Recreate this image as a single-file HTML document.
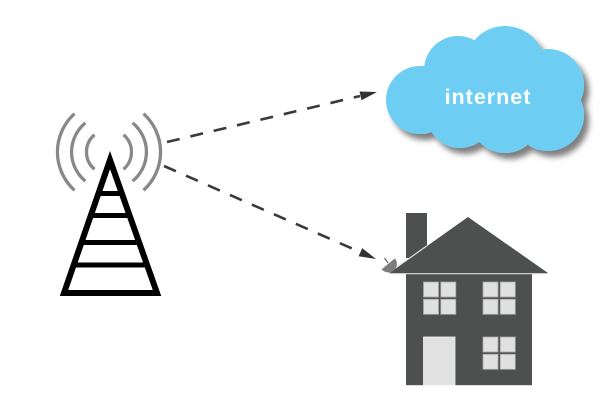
<!DOCTYPE html>
<html>
<head>
<meta charset="utf-8">
<style>
  html,body{margin:0;padding:0;background:#fff;}
  svg{display:block;}
</style>
</head>
<body>
<svg width="600" height="400" viewBox="0 0 600 400" xmlns="http://www.w3.org/2000/svg">
  <defs>
    <filter id="sh" x="-20%" y="-20%" width="150%" height="160%">
      <feDropShadow dx="5" dy="6" stdDeviation="3" flood-color="#000" flood-opacity="0.5"/>
    </filter>
  </defs>
  <rect width="600" height="400" fill="#fff"/>

  <!-- radio waves -->
  <g fill="none" stroke="#888" stroke-width="3.3">
    <path d="M74.5,113.7 A51.5 51.5 0 0 0 74.5,190.3"/>
    <path d="M143.5,113.7 A51.5 51.5 0 0 1 143.5,190.3"/>
    <path d="M85.4,122.9 A37.5 37.5 0 0 0 85.4,181.1"/>
    <path d="M132.6,122.9 A37.5 37.5 0 0 1 132.6,181.1"/>
    <path d="M94.5,134.8 A22.5 22.5 0 0 0 94.5,169.2"/>
    <path d="M123.5,134.8 A22.5 22.5 0 0 1 123.5,169.2"/>
  </g>

  <!-- tower -->
  <polygon points="110,160 64,293 157,293" fill="none" stroke="#000" stroke-width="6" stroke-linejoin="miter" stroke-miterlimit="10"/>
  <g stroke="#000" stroke-width="5">
    <line x1="98" y1="193.5" x2="122" y2="193.5"/>
    <line x1="90.5" y1="215.5" x2="130" y2="215.5"/>
    <line x1="81.5" y1="242.5" x2="139" y2="242.5"/>
    <line x1="73.5" y1="265" x2="147" y2="265"/>
  </g>

  <!-- dashed arrows -->
  <g stroke="#3a3a3a" stroke-width="2.6" fill="none" stroke-dasharray="13 11">
    <line x1="167" y1="142" x2="360" y2="96"/>
    <line x1="164" y1="166" x2="360" y2="252"/>
  </g>
  <polygon points="377,92 361.5,100.3 359.5,91.5" fill="#333"/>
  <polygon points="376,259 358.6,256.3 362.2,248.1" fill="#333"/>

  <!-- cloud -->
  <g filter="url(#sh)" fill="#6dcdf2">
    <circle cx="420" cy="100" r="34"/>
    <circle cx="458" cy="70" r="34"/>
    <circle cx="505" cy="66" r="40"/>
    <circle cx="548" cy="85" r="36"/>
    <circle cx="548" cy="115" r="36"/>
    <circle cx="505" cy="118" r="35"/>
    <circle cx="460" cy="115" r="33"/>
    <polygon points="420,100 458,70 505,66 548,85 548,115 505,118 460,115"/>
  </g>
  <text x="488" y="104" text-anchor="middle" font-family="Liberation Sans, sans-serif" font-weight="bold" font-size="21.5" letter-spacing="1" fill="#fff">internet</text>

  <!-- house -->
  <rect x="406" y="213" width="21" height="45" fill="#4e504f"/>
  <polygon points="468,217 389,273 548,273" fill="#4e504f"/>
  <line x1="389.5" y1="272.3" x2="427" y2="245.8" stroke="#e2e2e2" stroke-width="1.2"/>
  <line x1="389" y1="273.6" x2="548" y2="273.6" stroke="#cfcfcf" stroke-width="1.3"/>
  <rect x="406" y="274.2" width="126" height="111" fill="#4e504f"/>

  <g fill="#dfe0df" stroke="#a9aaa9" stroke-width="0.8">
    <!-- upper left window -->
    <rect x="423.5" y="282" width="15" height="15"/>
    <rect x="440.8" y="282" width="15" height="15"/>
    <rect x="423.5" y="299.3" width="15" height="15"/>
    <rect x="440.8" y="299.3" width="15" height="15"/>
    <!-- upper right window -->
    <rect x="483" y="282" width="15" height="15"/>
    <rect x="500.3" y="282" width="15" height="15"/>
    <rect x="483" y="299.3" width="15" height="15"/>
    <rect x="500.3" y="299.3" width="15" height="15"/>
    <!-- lower right window -->
    <rect x="483" y="337" width="15" height="15"/>
    <rect x="500.3" y="337" width="15" height="15"/>
    <rect x="483" y="354.3" width="15" height="15"/>
    <rect x="500.3" y="354.3" width="15" height="15"/>
  </g>
  <!-- door -->
  <rect x="423.5" y="337" width="31.5" height="48.2" fill="#e0e1e0" stroke="#f2f2f2" stroke-width="0.8"/>

  <!-- satellite dish -->
  <line x1="388" y1="263" x2="384.5" y2="258" stroke="#6a6a6a" stroke-width="1.2"/>
  <path d="M-8.6,0 A8.6 8.6 0 0 0 8.6,0 Z" fill="#7d7d7d" transform="translate(388.3,263.8) rotate(-39.6)"/>
</svg>
</body>
</html>
